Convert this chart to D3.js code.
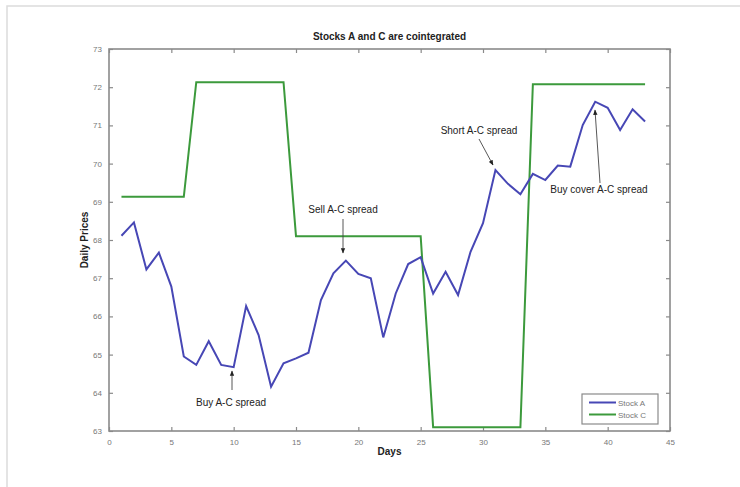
<!DOCTYPE html>
<html><head><meta charset="utf-8">
<script src="https://cdn.jsdelivr.net/npm/d3@7"></script>
<style>body{margin:0;background:#fff;font-family:"Liberation Sans",Arial,sans-serif;}</style>
</head><body><svg id="c" width="740" height="487"></svg>
<script>
const days = d3.range(1, 44);
const stockA = [68.11,68.46,67.23,67.67,66.78,64.95,64.73,65.35,64.73,64.67,
  66.27,65.51,64.16,64.77,64.9,65.05,66.43,67.13,67.46,67.11,
  67.0,65.45,66.6,67.37,67.55,66.6,67.17,66.56,67.69,68.44,
  69.83,69.47,69.2,69.73,69.57,69.95,69.92,71.01,71.62,71.46,
  70.88,71.42,71.1];
const stockC = [69.13,69.13,69.13,69.13,69.13,69.13,72.13,72.13,72.13,72.13,
  72.13,72.13,72.13,72.13,68.1,68.1,68.1,68.1,68.1,68.1,
  68.1,68.1,68.1,68.1,68.1,63.1,63.1,63.1,63.1,63.1,
  63.1,63.1,63.1,72.08,72.08,72.08,72.08,72.08,72.08,72.08,
  72.08,72.08,72.08];
const xTicks = [0,5,10,15,20,25,30,35,40,45];
const yTicks = [63,64,65,66,67,68,69,70,71,72,73];
const seriesNames = ["Stock A","Stock C"];
const seriesColors = ["#4747b5","#3c9a3c"];
const annotations = [
  {text:"Buy A-C spread", day:10, val:64.67, tx:231, ty:406, ax0:232, ay0:390, ax1:232, ay1:371},
  {text:"Sell A-C spread", day:19, val:67.46, tx:343, ty:213, ax0:343, ay0:219, ax1:343, ay1:253},
  {text:"Short A-C spread", day:31, val:69.83, tx:479, ty:134, ax0:479, ay0:139, ax1:493, ay1:165},
  {text:"Buy cover A-C spread", day:39, val:71.62, tx:599, ty:193, ax0:600, ay0:183, ax1:595, ay1:110}
];

const svg = d3.select("#c");
// outer frame
svg.append("path").attr("d","M7,487 L7,6 L740,6").attr("fill","none").attr("stroke","#dcdcdc").attr("stroke-width",1.5);

const L=109, R=670, T=49, B=431;
const x = d3.scaleLinear().domain([0,45]).range([L,R]);
const y = d3.scaleLinear().domain([63,73]).range([B,T]);
const axisCol = "#8a8a8a", labCol = "#777";

const g = svg.append("g");
// box
g.append("rect").attr("x",L).attr("y",T).attr("width",R-L).attr("height",B-T)
  .attr("fill","none").attr("stroke",axisCol).attr("stroke-width",1.6);

function styleAxis(sel){
  sel.select(".domain").remove();
  sel.selectAll(".tick line").attr("stroke",axisCol).attr("stroke-width",1.2);
  sel.selectAll(".tick text").attr("fill",labCol).attr("font-size",8).attr("font-family","Liberation Sans, Arial, sans-serif");
}
g.append("g").attr("transform",`translate(0,${B})`)
  .call(d3.axisBottom(x).tickValues(xTicks).tickSize(-4).tickPadding(8).tickFormat(d3.format("d")))
  .call(styleAxis);
g.append("g").attr("transform",`translate(0,${T})`)
  .call(d3.axisTop(x).tickValues(xTicks).tickSize(-4).tickFormat(""))
  .call(styleAxis);
g.append("g").attr("transform",`translate(${L},0)`)
  .call(d3.axisLeft(y).tickValues(yTicks).tickSize(-4).tickPadding(7).tickFormat(d3.format("d")))
  .call(styleAxis);
g.append("g").attr("transform",`translate(${R},0)`)
  .call(d3.axisRight(y).tickValues(yTicks).tickSize(-4).tickFormat(""))
  .call(styleAxis);

// lines
const line = d3.line().x((d,i)=>x(days[i])).y(d=>y(d));
g.append("path").datum(stockC).attr("d",line).attr("fill","none").attr("stroke",seriesColors[1]).attr("stroke-width",2);
g.append("path").datum(stockA).attr("d",line).attr("fill","none").attr("stroke",seriesColors[0]).attr("stroke-width",2);

// title and labels
svg.append("text").attr("x",(L+R)/2).attr("y",40).attr("text-anchor","middle")
  .attr("font-size",10).attr("font-weight","bold").attr("fill","#222").text("Stocks A and C are cointegrated");
svg.append("text").attr("x",(L+R)/2).attr("y",455).attr("text-anchor","middle")
  .attr("font-size",10).attr("font-weight","bold").attr("fill","#222").text("Days");
svg.append("text").attr("transform",`translate(88,${(T+B)/2}) rotate(-90)`).attr("text-anchor","middle")
  .attr("font-size",10).attr("font-weight","bold").attr("fill","#222").text("Daily Prices");

// annotations
const defs = svg.append("defs");
defs.append("marker").attr("id","ah").attr("viewBox","0 0 10 10").attr("refX",9).attr("refY",5)
  .attr("markerWidth",6).attr("markerHeight",6).attr("orient","auto")
  .append("path").attr("d","M0,1 L10,5 L0,9 Z").attr("fill","#222");
annotations.forEach(a=>{
  svg.append("line").attr("x1",a.ax0).attr("y1",a.ay0).attr("x2",a.ax1).attr("y2",a.ay1)
    .attr("stroke","#444").attr("stroke-width",0.9).attr("marker-end","url(#ah)");
  svg.append("text").attr("x",a.tx).attr("y",a.ty).attr("text-anchor","middle")
    .attr("font-size",10).attr("fill","#222").text(a.text);
});

// legend
const lg = svg.append("g");
lg.append("rect").attr("x",582).attr("y",394).attr("width",76).attr("height",30)
  .attr("fill","#fff").attr("stroke",axisCol).attr("stroke-width",1.2);
seriesNames.forEach((n,i)=>{
  const yy = 402.5 + i*12;
  lg.append("line").attr("x1",589).attr("x2",616).attr("y1",yy).attr("y2",yy)
    .attr("stroke",seriesColors[i]).attr("stroke-width",2);
  lg.append("text").attr("x",618).attr("y",yy+3).attr("font-size",8).attr("fill","#777").text(n);
});
</script></body></html>
